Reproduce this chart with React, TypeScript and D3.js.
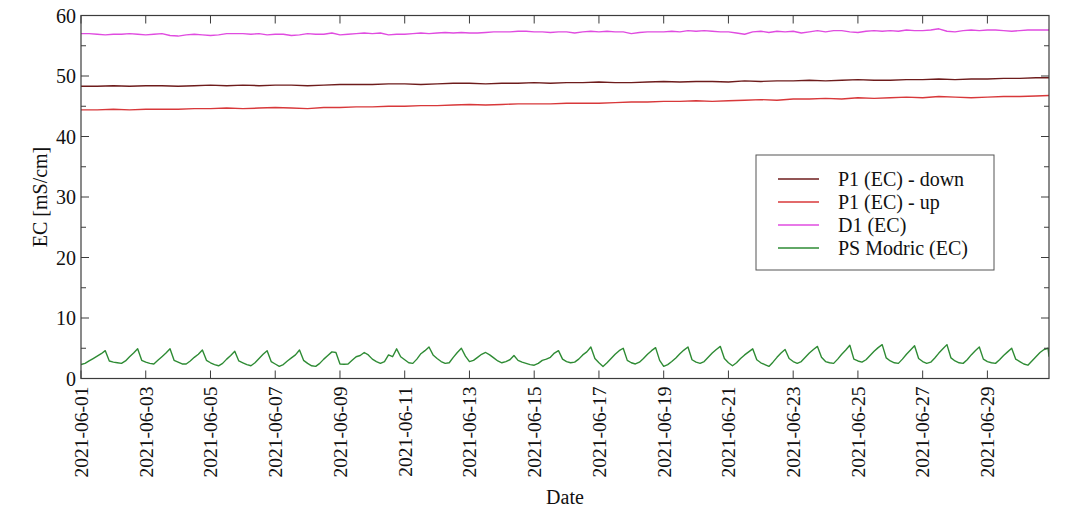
import { useEffect, useRef } from 'react';
import * as d3 from 'd3';

// series
const seriesNames = ['P1 (EC) - down', 'P1 (EC) - up', 'D1 (EC)', 'PS Modric (EC)'];
const seriesColors = ['#6e1c1c', '#d8383a', '#e04ce0', '#2e8b34'];

const startDate = new Date(2021, 5, 1, 0, 0);
const endDate = new Date(2021, 5, 30, 21, 40);

const tickLabels = [
  '2021-06-01', '2021-06-03', '2021-06-05', '2021-06-07', '2021-06-09',
  '2021-06-11', '2021-06-13', '2021-06-15', '2021-06-17', '2021-06-19',
  '2021-06-21', '2021-06-23', '2021-06-25', '2021-06-27', '2021-06-29',
];
const yTicks = [0, 10, 20, 30, 40, 50, 60];
const yMinorTicks = [5, 15, 25, 35, 45, 55];

// 12 h steps from 06-01 00:00
const p1Down = [
  48.3, 48.3, 48.4, 48.3, 48.4, 48.4, 48.3, 48.4, 48.5, 48.4,
  48.5, 48.4, 48.5, 48.5, 48.4, 48.5, 48.6, 48.6, 48.6, 48.7,
  48.7, 48.6, 48.7, 48.8, 48.8, 48.7, 48.8, 48.8, 48.9, 48.8,
  48.9, 48.9, 49.0, 48.9, 48.9, 49.0, 49.1, 49.0, 49.1, 49.1,
  49.0, 49.2, 49.1, 49.2, 49.2, 49.3, 49.2, 49.3, 49.4, 49.3,
  49.3, 49.4, 49.4, 49.5, 49.4, 49.5, 49.5, 49.6, 49.6, 49.7, 49.7,
];
const p1Up = [
  44.4, 44.4, 44.5, 44.4, 44.5, 44.5, 44.5, 44.6, 44.6, 44.7,
  44.6, 44.7, 44.8, 44.7, 44.6, 44.8, 44.8, 44.9, 44.9, 45.0,
  45.0, 45.1, 45.1, 45.2, 45.3, 45.2, 45.3, 45.4, 45.4, 45.4,
  45.5, 45.5, 45.5, 45.6, 45.7, 45.7, 45.8, 45.8, 45.9, 45.8,
  45.9, 46.0, 46.1, 46.0, 46.2, 46.2, 46.3, 46.2, 46.4, 46.3,
  46.4, 46.5, 46.4, 46.6, 46.5, 46.4, 46.5, 46.6, 46.6, 46.7, 46.8,
];

// 6 h steps from 06-01 00:00
const d1 = [
  57.0, 57.0, 56.9, 56.8, 56.9, 56.9, 57.0, 56.9, 56.8, 56.9, 57.0, 56.7,
  56.6, 56.8, 56.9, 56.8, 56.7, 56.8, 57.0, 57.0, 57.0, 56.9, 57.0, 56.8,
  56.9, 56.9, 56.7, 56.8, 57.0, 56.9, 56.9, 57.1, 56.8, 56.9, 57.0, 57.1,
  57.0, 57.1, 56.8, 56.9, 56.9, 57.0, 57.1, 57.0, 57.1, 57.2, 57.1, 57.2,
  57.1, 57.1, 57.2, 57.3, 57.3, 57.3, 57.4, 57.4, 57.3, 57.3, 57.2, 57.3,
  57.3, 57.1, 57.3, 57.4, 57.3, 57.4, 57.3, 57.3, 57.0, 57.2, 57.3, 57.3,
  57.3, 57.4, 57.3, 57.5, 57.4, 57.5, 57.4, 57.3, 57.3, 57.1, 56.9, 57.3,
  57.4, 57.2, 57.4, 57.3, 57.4, 57.1, 57.3, 57.5, 57.3, 57.5, 57.5, 57.3,
  57.2, 57.4, 57.5, 57.4, 57.5, 57.4, 57.6, 57.5, 57.5, 57.6, 57.8, 57.4,
  57.3, 57.5, 57.6, 57.5, 57.6, 57.6, 57.5, 57.4, 57.5, 57.6, 57.6, 57.6,
  57.6,
];

// 3 h steps per day (00, 03, ... 21 h)
const psModricByDay = [
  [2.3, 2.5, 2.9, 3.3, 3.7, 4.1, 4.6, 2.9],
  [2.7, 2.6, 2.5, 2.9, 3.6, 4.2, 4.9, 3.0],
  [2.7, 2.5, 2.4, 3.0, 3.6, 4.2, 4.9, 3.0],
  [2.7, 2.4, 2.4, 2.9, 3.5, 4.0, 4.7, 3.0],
  [2.6, 2.3, 2.1, 2.5, 3.2, 3.8, 4.5, 2.9],
  [2.6, 2.3, 2.1, 2.6, 3.3, 4.0, 4.6, 2.8],
  [2.4, 2.0, 2.3, 2.9, 3.4, 3.9, 4.7, 3.0],
  [2.5, 2.1, 2.0, 2.5, 3.2, 3.8, 4.4, 4.3],
  [2.4, 2.35, 2.4, 3.0, 3.6, 3.8, 4.3, 3.9],
  [3.2, 2.8, 2.5, 2.8, 3.9, 3.6, 4.9, 3.6],
  [3.1, 2.6, 2.5, 3.2, 4.1, 4.6, 5.2, 3.9],
  [3.3, 2.8, 2.5, 2.6, 3.5, 4.3, 5.0, 3.7],
  [2.8, 3.0, 3.5, 4.0, 4.3, 3.9, 3.4, 2.9],
  [2.6, 2.8, 3.1, 3.8, 3.0, 2.7, 2.5, 2.3],
  [2.2, 2.5, 3.0, 3.2, 3.5, 4.2, 4.6, 3.2],
  [2.8, 2.6, 2.7, 3.2, 3.9, 4.4, 5.2, 3.3],
  [2.6, 2.0, 2.6, 3.3, 4.0, 4.6, 5.0, 3.0],
  [2.6, 2.4, 2.7, 3.3, 4.0, 4.6, 5.1, 3.0],
  [2.0, 2.3, 2.8, 3.4, 4.1, 4.7, 5.2, 3.1],
  [2.7, 2.5, 2.8, 3.5, 4.2, 4.8, 5.3, 3.3],
  [2.6, 2.1, 2.6, 3.3, 3.9, 4.4, 4.9, 3.1],
  [2.6, 2.3, 2.0, 2.7, 3.5, 4.2, 4.8, 3.3],
  [2.8, 2.5, 2.8, 3.5, 4.2, 4.8, 5.3, 3.5],
  [2.8, 2.6, 2.5, 3.2, 4.0, 4.7, 5.5, 3.2],
  [2.9, 2.7, 3.1, 3.8, 4.5, 5.1, 5.6, 3.4],
  [2.9, 2.6, 2.5, 3.2, 4.0, 4.7, 5.4, 3.3],
  [2.8, 2.5, 2.7, 3.4, 4.2, 4.9, 5.6, 3.4],
  [2.9, 2.6, 2.5, 3.1, 3.9, 4.6, 5.2, 3.2],
  [2.8, 2.6, 2.5, 3.1, 3.8, 4.4, 5.0, 3.2],
  [2.8, 2.4, 2.2, 2.9, 3.6, 4.3, 4.8, 5.0],
];
const psModricLast = 3.6; // value at endDate

const App = () => {
  const ref = useRef<SVGSVGElement>(null);

  useEffect(() => {
    document.body.style.margin = '0';
    const width = 1066;
    const height = 509;
    const margin = { top: 15.5, right: 17, bottom: 130.5, left: 81 };
    const font = 'Liberation Serif, DejaVu Serif, serif';
    const axisColor = '#3c3c3c';

    const svg = d3.select(ref.current);
    svg.selectAll('*').remove();
    svg.attr('width', width).attr('height', height)
      .style('font-family', font);

    const x = d3.scaleTime()
      .domain([startDate, endDate])
      .range([margin.left, width - margin.right]);
    const y = d3.scaleLinear()
      .domain([0, 60])
      .range([height - margin.bottom, margin.top]);

    const x0 = x.range()[0], x1 = x.range()[1];
    const y0 = y.range()[0], y1 = y.range()[1];

    // build point lists
    const hourStep = (arr: number[], step: number) =>
      arr.map((v, i) => ({ date: d3.timeHour.offset(startDate, i * step), value: v }));
    const greenPts = psModricByDay.flatMap((day, di) =>
      day.map((v, hi) => ({ date: d3.timeHour.offset(startDate, di * 24 + hi * 3), value: v })));
    greenPts.push({ date: endDate, value: psModricLast });

    const series = [hourStep(p1Down, 12), hourStep(p1Up, 12), hourStep(d1, 6), greenPts];

    svg.append('clipPath').attr('id', 'plotClip')
      .append('rect')
      .attr('x', x0).attr('y', y1)
      .attr('width', x1 - x0).attr('height', y0 - y1);

    const line = d3.line<{ date: Date; value: number }>()
      .x(d => x(d.date))
      .y(d => y(d.value));

    const lines = svg.append('g').attr('clip-path', 'url(#plotClip)');
    series.forEach((s, i) => {
      lines.append('path')
        .datum(s)
        .attr('fill', 'none')
        .attr('stroke', seriesColors[i])
        .attr('stroke-width', 1.4)
        .attr('stroke-linejoin', 'round')
        .attr('d', line);
    });

    // frame
    svg.append('rect')
      .attr('x', x0).attr('y', y1)
      .attr('width', x1 - x0).attr('height', y0 - y1)
      .attr('fill', 'none')
      .attr('stroke', axisColor)
      .attr('stroke-width', 1.2);

    const tickDates = tickLabels.map(s => d3.timeParse('%Y-%m-%d')(s) as Date);
    const ticks = svg.append('g').attr('stroke', axisColor).attr('stroke-width', 1);
    tickDates.forEach(d => {
      const tx = x(d);
      ticks.append('line').attr('x1', tx).attr('x2', tx).attr('y1', y0).attr('y2', y0 - 8);
      ticks.append('line').attr('x1', tx).attr('x2', tx).attr('y1', y1).attr('y2', y1 + 8);
    });
    yTicks.forEach(v => {
      ticks.append('line').attr('x1', x0).attr('x2', x0 + 8).attr('y1', y(v)).attr('y2', y(v));
      ticks.append('line').attr('x1', x1).attr('x2', x1 - 8).attr('y1', y(v)).attr('y2', y(v));
    });
    yMinorTicks.forEach(v => {
      ticks.append('line').attr('x1', x0).attr('x2', x0 + 5).attr('y1', y(v)).attr('y2', y(v));
      ticks.append('line').attr('x1', x1).attr('x2', x1 - 5).attr('y1', y(v)).attr('y2', y(v));
    });

    svg.append('g')
      .selectAll('text')
      .data(yTicks)
      .join('text')
      .attr('x', x0 - 5)
      .attr('y', d => y(d))
      .attr('dy', '0.35em')
      .attr('text-anchor', 'end')
      .attr('font-size', 20)
      .attr('fill', '#111')
      .text(d => d);

    svg.append('g')
      .selectAll('text')
      .data(tickDates)
      .join('text')
      .attr('transform', d => `translate(${x(d)},${y0 + 8}) rotate(-90)`)
      .attr('dy', '0.35em')
      .attr('text-anchor', 'end')
      .attr('font-size', 19.5)
      .attr('fill', '#111')
      .text((d, i) => tickLabels[i]);

    svg.append('text')
      .attr('x', (x0 + x1) / 2)
      .attr('y', 504)
      .attr('text-anchor', 'middle')
      .attr('font-size', 20)
      .attr('fill', '#111')
      .text('Date');

    svg.append('text')
      .attr('transform', `translate(40,${(y0 + y1) / 2}) rotate(-90)`)
      .attr('dy', '0.35em')
      .attr('text-anchor', 'middle')
      .attr('font-size', 20)
      .attr('fill', '#111')
      .text('EC [mS/cm]');

    // legend
    const legend = svg.append('g').attr('transform', 'translate(756,155)');
    legend.append('rect')
      .attr('width', 238).attr('height', 115)
      .attr('fill', '#fff')
      .attr('stroke', '#555')
      .attr('stroke-width', 1);
    seriesNames.forEach((name, i) => {
      const ly = 24 + i * 23;
      legend.append('line')
        .attr('x1', 22).attr('x2', 63)
        .attr('y1', ly).attr('y2', ly)
        .attr('stroke', seriesColors[i])
        .attr('stroke-width', 1.6);
      legend.append('text')
        .attr('x', 82).attr('y', ly)
        .attr('dy', '0.35em')
        .attr('font-size', 20)
        .attr('fill', '#111')
        .text(name);
    });
  }, []);

  return <svg ref={ref} style={{ display: 'block' }}></svg>;
};

export default App;
